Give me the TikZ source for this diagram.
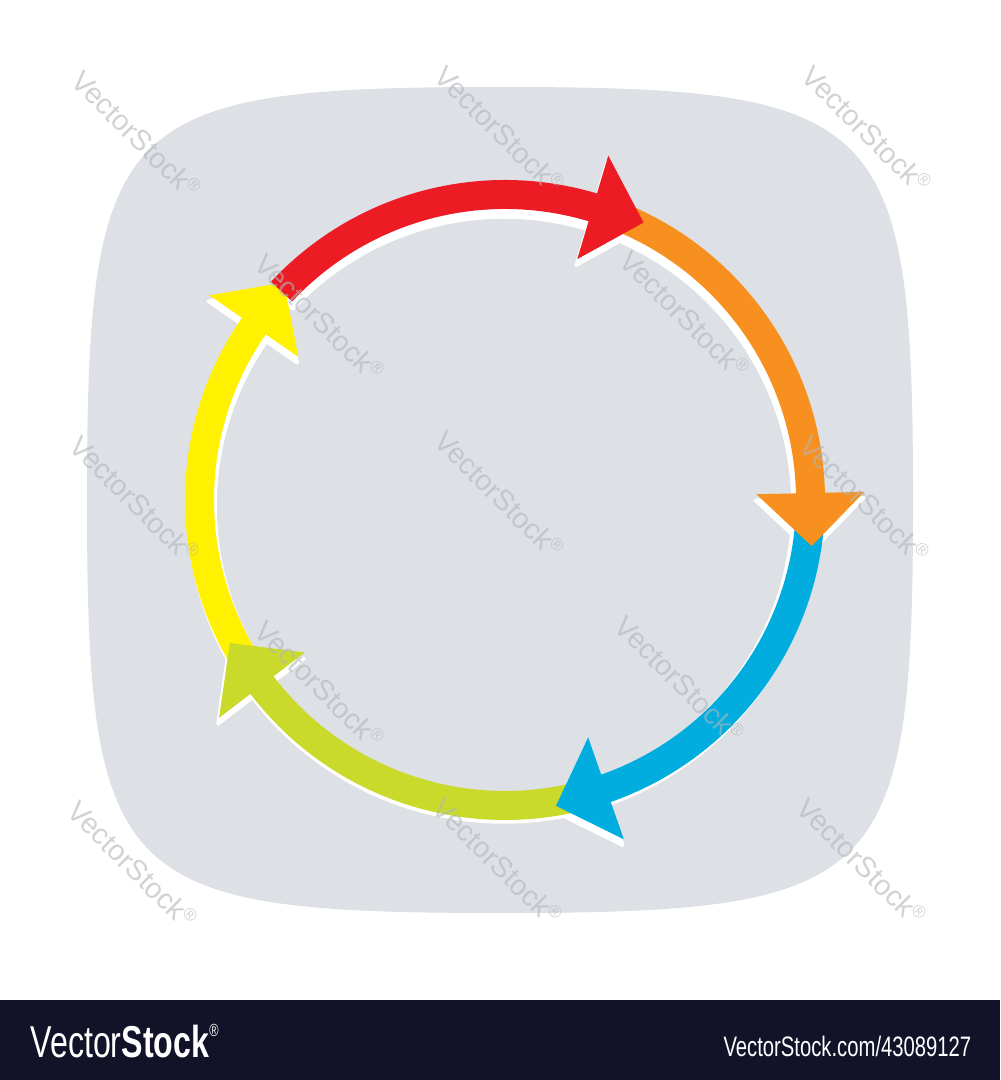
\documentclass[tikz,border=0pt]{standalone}
\usepackage{fontspec}
\setmainfont{Liberation Sans}
\definecolor{bgGray}{RGB}{221,224,228}
\definecolor{cRed}{RGB}{237,28,36}
\definecolor{cOrange}{RGB}{247,144,30}
\definecolor{cBlue}{RGB}{0,173,222}
\definecolor{cGreen}{RGB}{201,218,42}
\definecolor{cYellow}{RGB}{255,241,0}
\definecolor{barNavy}{RGB}{18,19,40}
\definecolor{wmGray}{RGB}{178,182,187}
\tikzset{
  shadowfill/.style={fill=white, draw=white, line width=1pt, line join=round},
  wmark/.style={text=wmGray, opacity=0.6, font=\fontsize{8.2}{9}\selectfont, rotate=-45, inner sep=0pt},
  bartext/.style={text=white, inner sep=0pt, anchor=base west, xscale=0.72}
}
% #1 start angle, #2 end angle (head base), #3 inner radius, #4 outer radius, #5 style
\newcommand\arcseg[5]{%
  \path[#5] (#1:#4) arc[start angle=#1, end angle=#2, radius=#4]
    -- (#2:359.5) -- ({#2-9.84}:310.1) -- (#2:251.5) -- (#2:#3)
    arc[start angle=#2, end angle=#1, radius=#3] -- cycle;}
\begin{document}
\begin{tikzpicture}[x=0.01cm,y=0.01cm]
\useasboundingbox (0,0) rectangle (1000,1080);
\fill[white] (0,0) rectangle (1000,1080);
% gray rounded square
\fill[bgGray] (500,993) .. controls (884,993) and (913,964) .. (913,580)
  .. controls (913,196) and (884,167) .. (500,167)
  .. controls (116,167) and (87,196) .. (87,580)
  .. controls (87,964) and (116,993) .. (500,993) -- cycle;
% white shadows
\begin{scope}[shift={(504,574)}]
  \arcseg{212.3}{145.3}{289}{316}{shadowfill}
  \arcseg{-75.7}{-142.7}{289}{316}{shadowfill}
  \arcseg{-3.7}{-70.7}{289}{316}{shadowfill}
  \arcseg{68.3}{1.3}{289}{316}{shadowfill}
  \arcseg{137}{73.3}{289}{316}{shadowfill}
\end{scope}
% coloured arrows
\begin{scope}[shift={(505,580)}]
  \arcseg{212.3}{145.3}{291}{320}{fill=cYellow}
  \arcseg{-75.7}{-142.7}{291}{320}{fill=cGreen}
  \arcseg{-3.7}{-70.7}{291}{320}{fill=cBlue}
  \arcseg{68.3}{1.3}{291}{320}{fill=cOrange}
  \arcseg{137}{73.3}{291}{320}{fill=cRed}
\end{scope}
% watermarks
\foreach \wx/\wy [count=\i] in {137/945, 500/950, 867/950, 320/762, 685/765, 135/580, 500/585, 865/580, 320/395, 680/400, 133/215, 498/218, 862/218}
  \node[wmark] (wm\i) at (\wx,\wy) {VectorStock\textsuperscript{\tiny ®}};
% bottom bar
\fill[barNavy] (0,0) rectangle (1000,80);
\node[bartext, font=\fontsize{12.7}{14}\selectfont] (logo) at (30,22) {Vector\textbf{Stock}\raisebox{0.9ex}{\fontsize{5}{6}\selectfont ®}};
\node[bartext, font=\fontsize{8}{9}\selectfont] (url) at (723,23) {VectorStock.com/43089127};
\end{tikzpicture}
\end{document}
